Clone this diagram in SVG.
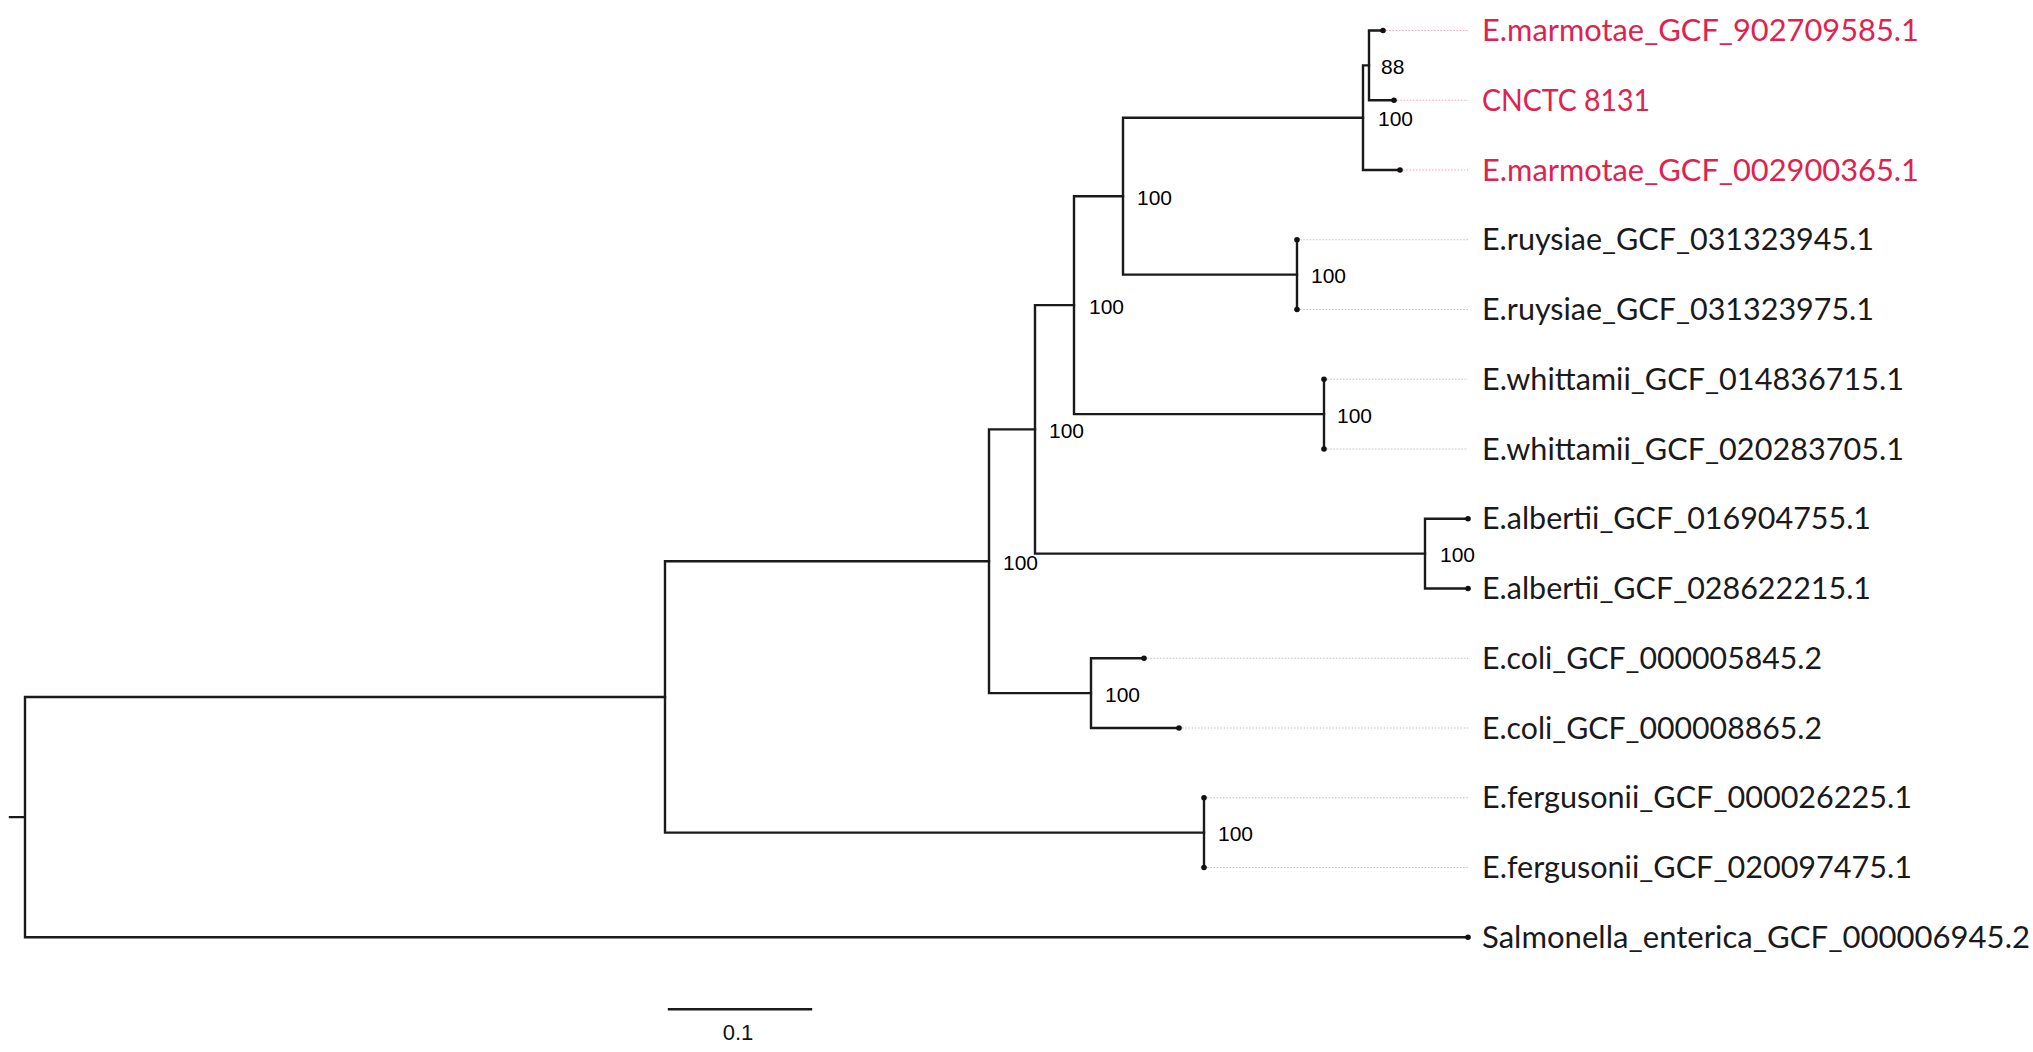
<svg xmlns="http://www.w3.org/2000/svg" width="2033" height="1052" viewBox="0 0 2033 1052">
<style>
.br{fill:none;stroke:#1a1a1a;stroke-width:2.4;stroke-linecap:square;stroke-linejoin:miter}
.gd{fill:none;stroke:#c4c4c4;stroke-width:1.2;stroke-dasharray:1.6 1.6}
.gr{fill:none;stroke:#f0a8b8;stroke-width:1.2;stroke-dasharray:1.6 1.6}
.tip{fill:#111}
.lb{font-family:Lato,"Open Sans","Liberation Sans",sans-serif;font-size:30.5px;fill:#1a1a1a}
.red{fill:#E0234E}
.bs{font-family:"Liberation Sans",Arial,sans-serif;font-size:21px;fill:#000}
.sc{font-family:"Liberation Sans",Arial,sans-serif;font-size:22px;fill:#111}
</style>
<rect width="2033" height="1052" fill="#ffffff"/>
<g id="connectors">
<path class="br" d="M10,817.1 H25 M25,697 V937.25 M25,697 H665 M25,937.25 H1468"/>
<path class="br" d="M665,561.3 V832.6 M665,561.3 H989 M665,832.6 H1204"/>
<path class="br" d="M1204,797.75 V867.5"/>
<path class="br" d="M989,429.4 V693.1 M989,429.4 H1035 M989,693.1 H1091"/>
<path class="br" d="M1091,658.25 V728 M1091,658.25 H1144 M1091,728 H1179"/>
<path class="br" d="M1035,305.1 V553.6 M1035,305.1 H1074 M1035,553.6 H1425"/>
<path class="br" d="M1425,518.75 V588.5 M1425,518.75 H1468 M1425,588.5 H1468"/>
<path class="br" d="M1074,196.2 V414.1 M1074,196.2 H1123 M1074,414.1 H1324"/>
<path class="br" d="M1324,379.25 V449"/>
<path class="br" d="M1123,117.7 V274.6 M1123,117.7 H1363 M1123,274.6 H1297"/>
<path class="br" d="M1297,239.75 V309.5"/>
<path class="br" d="M1363,65.4 V170 M1363,65.4 H1369 M1363,170 H1400"/>
<path class="br" d="M1369,30.5 V100.25 M1369,30.5 H1383 M1369,100.25 H1394"/>
<path class="gr" d="M1386,30.5 H1468 M1397,100.25 H1468 M1403,170 H1468"/>
<path class="gd" d="M1300,239.75 H1468 M1300,309.5 H1468 M1327,379.25 H1468 M1327,449 H1468 M1147,658.25 H1468 M1182,728 H1468 M1207,797.75 H1468 M1207,867.5 H1468"/>
</g>
<g id="leaf-marmotae-902709585"><circle class="tip" cx="1383" cy="30.5" r="2.8"/><text class="lb red" x="1482" y="41" textLength="437" lengthAdjust="spacingAndGlyphs">E.marmotae_GCF_902709585.1</text></g>
<g id="leaf-cnctc-8131"><circle class="tip" cx="1394" cy="100.25" r="2.8"/><text class="lb red" x="1482" y="110.75" textLength="168" lengthAdjust="spacingAndGlyphs">CNCTC 8131</text></g>
<g id="leaf-marmotae-002900365"><circle class="tip" cx="1400" cy="170" r="2.8"/><text class="lb red" x="1482" y="180.5" textLength="437" lengthAdjust="spacingAndGlyphs">E.marmotae_GCF_002900365.1</text></g>
<g id="leaf-ruysiae-031323945"><circle class="tip" cx="1297" cy="239.75" r="2.8"/><text class="lb" x="1482" y="250.25" textLength="392" lengthAdjust="spacingAndGlyphs">E.ruysiae_GCF_031323945.1</text></g>
<g id="leaf-ruysiae-031323975"><circle class="tip" cx="1297" cy="309.5" r="2.8"/><text class="lb" x="1482" y="320" textLength="392" lengthAdjust="spacingAndGlyphs">E.ruysiae_GCF_031323975.1</text></g>
<g id="leaf-whittamii-014836715"><circle class="tip" cx="1324" cy="379.25" r="2.8"/><text class="lb" x="1482" y="389.75" textLength="422" lengthAdjust="spacingAndGlyphs">E.whittamii_GCF_014836715.1</text></g>
<g id="leaf-whittamii-020283705"><circle class="tip" cx="1324" cy="449" r="2.8"/><text class="lb" x="1482" y="459.5" textLength="422" lengthAdjust="spacingAndGlyphs">E.whittamii_GCF_020283705.1</text></g>
<g id="leaf-albertii-016904755"><circle class="tip" cx="1468" cy="518.75" r="2.8"/><text class="lb" x="1482" y="529.25" textLength="389" lengthAdjust="spacingAndGlyphs">E.albertii_GCF_016904755.1</text></g>
<g id="leaf-albertii-028622215"><circle class="tip" cx="1468" cy="588.5" r="2.8"/><text class="lb" x="1482" y="599" textLength="389" lengthAdjust="spacingAndGlyphs">E.albertii_GCF_028622215.1</text></g>
<g id="leaf-coli-000005845"><circle class="tip" cx="1144" cy="658.25" r="2.8"/><text class="lb" x="1482" y="668.75" textLength="340" lengthAdjust="spacingAndGlyphs">E.coli_GCF_000005845.2</text></g>
<g id="leaf-coli-000008865"><circle class="tip" cx="1179" cy="728" r="2.8"/><text class="lb" x="1482" y="738.5" textLength="340" lengthAdjust="spacingAndGlyphs">E.coli_GCF_000008865.2</text></g>
<g id="leaf-fergusonii-000026225"><circle class="tip" cx="1204" cy="797.75" r="2.8"/><text class="lb" x="1482" y="808.25" textLength="430" lengthAdjust="spacingAndGlyphs">E.fergusonii_GCF_000026225.1</text></g>
<g id="leaf-fergusonii-020097475"><circle class="tip" cx="1204" cy="867.5" r="2.8"/><text class="lb" x="1482" y="878" textLength="430" lengthAdjust="spacingAndGlyphs">E.fergusonii_GCF_020097475.1</text></g>
<g id="leaf-salmonella-000006945"><circle class="tip" cx="1468" cy="937.25" r="2.8"/><text class="lb" x="1482" y="947.75" textLength="548" lengthAdjust="spacingAndGlyphs">Salmonella_enterica_GCF_000006945.2</text></g>
<g id="node-m2"><text class="bs" x="1381" y="74">88</text></g>
<g id="node-m"><text class="bs" x="1378" y="126">100</text></g>
<g id="node-n4"><text class="bs" x="1137" y="204.5">100</text></g>
<g id="node-ruysiae"><text class="bs" x="1311" y="283">100</text></g>
<g id="node-n3"><text class="bs" x="1089" y="313.5">100</text></g>
<g id="node-whittamii"><text class="bs" x="1337" y="422.5">100</text></g>
<g id="node-n2"><text class="bs" x="1049" y="438">100</text></g>
<g id="node-albertii"><text class="bs" x="1440" y="562">100</text></g>
<g id="node-n1"><text class="bs" x="1003" y="570">100</text></g>
<g id="node-coli"><text class="bs" x="1105" y="701.5">100</text></g>
<g id="node-fergusonii"><text class="bs" x="1218" y="841">100</text></g>
<g id="scale-bar"><path class="br" d="M669,1009.3 H811"/><text class="sc" x="738" y="1040" text-anchor="middle">0.1</text></g>
</svg>
